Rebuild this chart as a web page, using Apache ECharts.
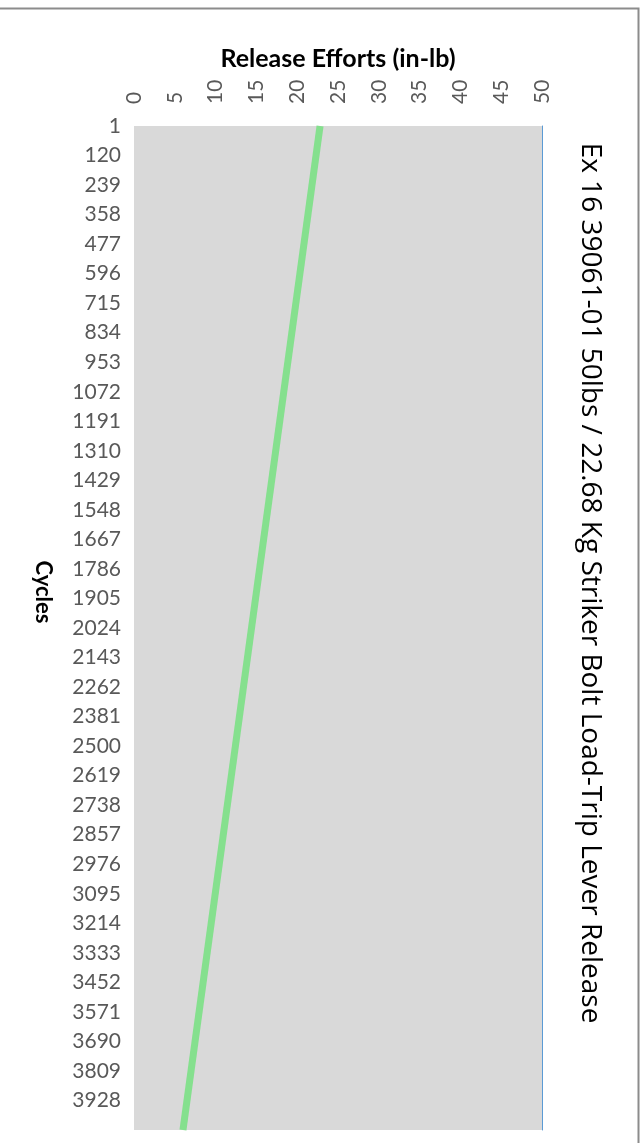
<!DOCTYPE html>
<html>
<head>
<meta charset="utf-8">
<script src="https://cdn.jsdelivr.net/npm/echarts@6/dist/echarts.min.js"></script>
<style>
html,body{margin:0;padding:0;background:#fff;}
#chart{width:641px;height:1143px;}
</style>
</head>
<body>
<div id="chart"></div>
<script>
// Tick labels for the Cycles (category) axis
var cycleLabels = ['1','120','239','358','477','596','715','834','953','1072','1191','1310','1429','1548','1667','1786','1905','2024','2143','2262','2381','2500','2619','2738','2857','2976','3095','3214','3333','3452','3571','3690','3809','3928'];
// End category of the axis (not labelled)
var cycleEnd = '4047';
// Series: release effort at first and last cycle
var seriesCycles = ['1', '4047'];
var seriesEfforts = [22.8, 6.0];
// Release effort axis
var effortMin = 0, effortMax = 50, effortStep = 5;

var titleText = 'Ex 16 39061-01 50lbs / 22.68 Kg Striker Bolt Load-Trip Lever Release';

var categories = cycleLabels.concat([cycleEnd]);
var lineData = seriesCycles.map(function (c, i) { return [seriesEfforts[i], c]; });

var chart = echarts.init(document.getElementById('chart'), null, {renderer: 'canvas'});
chart.setOption({
  animation: false,
  backgroundColor: '#ffffff',
  grid: {left: 134, right: 99, top: 126, bottom: 13, show: true, backgroundColor: '#d9d9d9', borderWidth: 0},
  xAxis: {
    type: 'value', position: 'top', min: effortMin, max: effortMax, interval: effortStep,
    name: 'Release Efforts (in-lb)', nameLocation: 'middle', nameGap: 55,
    nameTextStyle: {fontFamily: 'Lato', fontWeight: 'bold', fontSize: 25, color: '#000'},
    axisLine: {show: false}, axisTick: {show: false}, splitLine: {show: false},
    axisLabel: {rotate: -90, margin: 22, fontFamily: 'Lato', fontSize: 21, color: '#595959',
      padding: [12, 0, 0, 0]}
  },
  yAxis: [{
    type: 'category', data: categories, inverse: true, boundaryGap: false,
    axisLine: {show: false}, axisTick: {show: false}, splitLine: {show: false},
    axisLabel: {margin: 13, fontFamily: 'Lato', fontSize: 21, color: '#595959',
      interval: function (idx) { return idx < cycleLabels.length; }}
  }, {
    type: 'category', data: categories, inverse: true, boundaryGap: false, position: 'right',
    axisLine: {show: true, lineStyle: {color: '#5b9bd5', width: 1}},
    axisTick: {show: false}, axisLabel: {show: false}, splitLine: {show: false}
  }],
  series: [{
    type: 'line', data: lineData, yAxisIndex: 0, showSymbol: false, symbol: 'none',
    lineStyle: {color: '#85e08e', width: 7}, silent: true
  }],
  graphic: [{
    type: 'rect', left: -4, top: 6, silent: true,
    shape: {width: 640, height: 1150},
    style: {fill: 'none', stroke: '#8c8c8c', lineWidth: 2}
  }, {
    type: 'text', x: 43, y: 592, rotation: -Math.PI / 2, silent: true,
    style: {text: 'Cycles', fontFamily: 'Lato', fontWeight: 'bold', fontSize: 22, fill: '#000',
      align: 'center', verticalAlign: 'middle'}
  }, {
    type: 'text', x: 590, y: 583, rotation: -Math.PI / 2, silent: true,
    style: {text: titleText, fontFamily: 'Open Sans', fontSize: 28, fill: '#000',
      align: 'center', verticalAlign: 'middle'}
  }]
});
</script>
</body>
</html>
